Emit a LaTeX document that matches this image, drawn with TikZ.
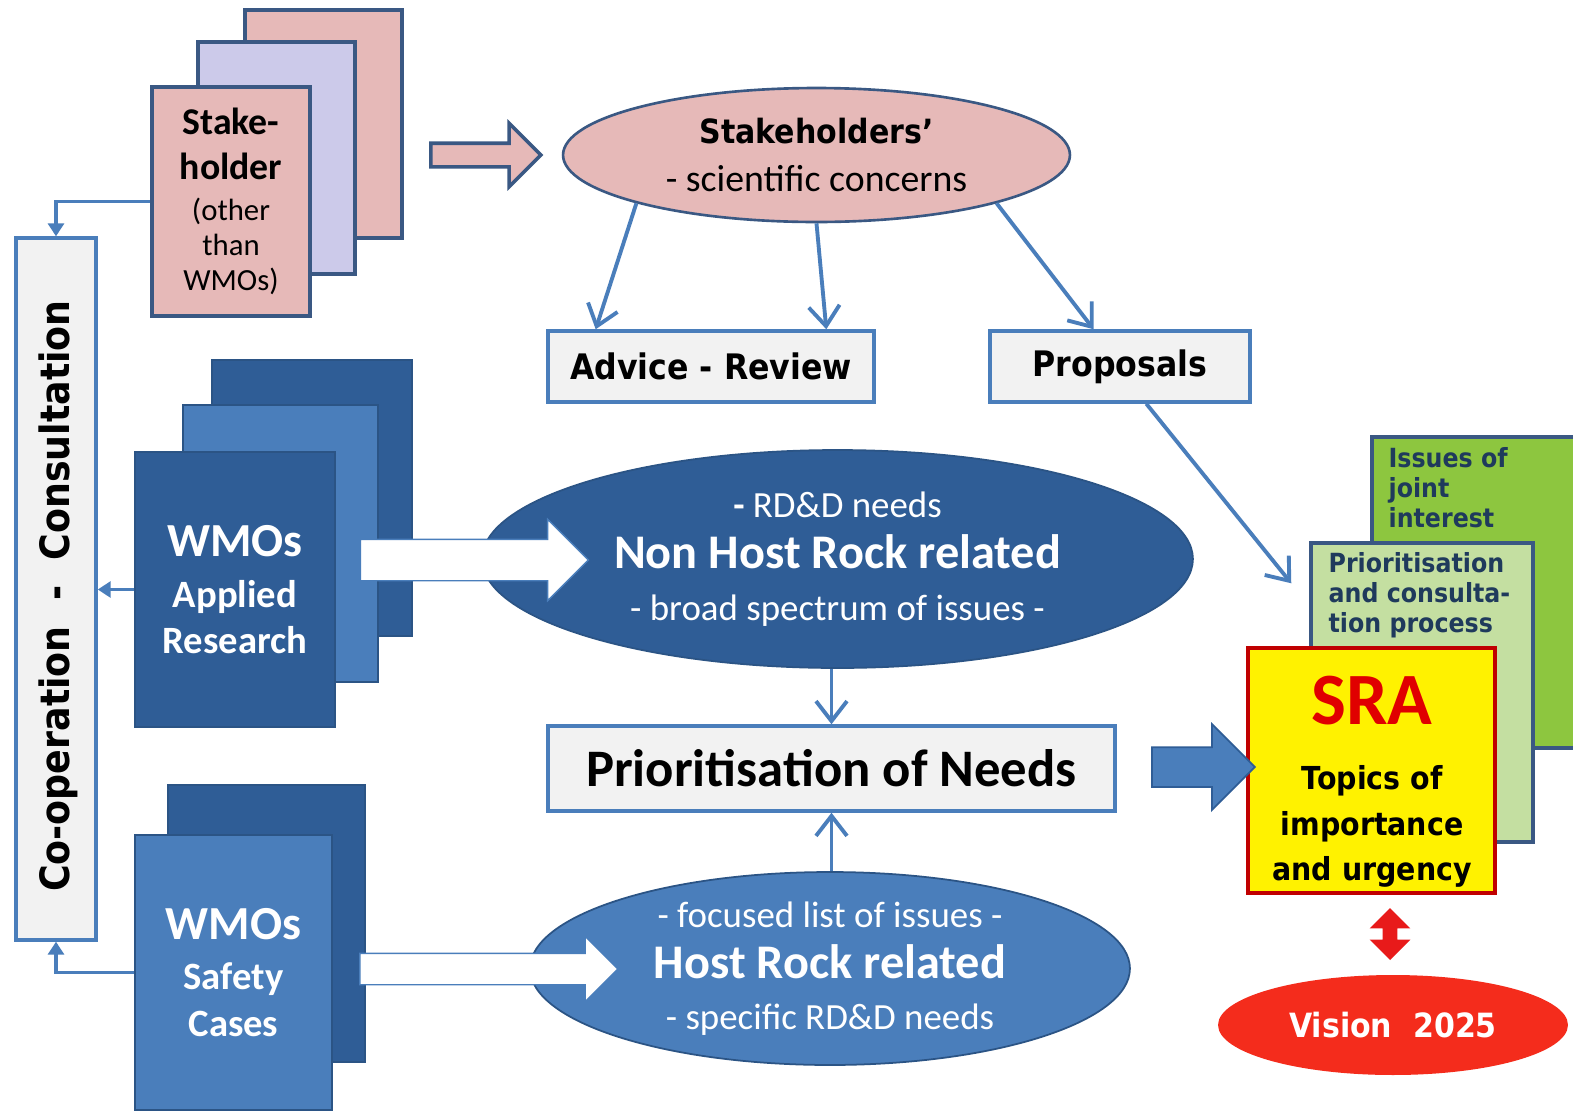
\documentclass[tikz,border=0pt]{standalone}
\usepackage{fontspec}
\setmainfont{Carlito}
\newfontfamily\tahfont[FakeStretch=0.9]{DejaVu Sans}
\usetikzlibrary{shapes.geometric, shapes.arrows, arrows.meta, positioning, calc}

\definecolor{cardedge}{HTML}{3A5883}
\definecolor{stkpink}{HTML}{E6B9B8}
\definecolor{stklav}{HTML}{CCCAEA}
\definecolor{linkblue}{HTML}{4A7EBB}
\definecolor{deepblue}{HTML}{2F5D96}
\definecolor{midblue}{HTML}{4A7EBB}
\definecolor{blueedge}{HTML}{2B5485}
\definecolor{boxgray}{HTML}{F2F2F2}
\definecolor{jointgreen}{HTML}{8DC63F}
\definecolor{palegreen}{HTML}{C4DFA1}
\definecolor{navytext}{HTML}{1F3A5C}
\definecolor{sraedge}{HTML}{C00000}
\definecolor{srared}{HTML}{E00000}
\definecolor{visionred}{HTML}{F42C1C}
\definecolor{dblred}{HTML}{E81A1A}

\begin{document}
\begin{tikzpicture}[
    x=0.02cm, y=-0.02cm,
    card/.style={rectangle, draw=cardedge, line width=2.2pt, inner sep=0pt, align=center},
    bcard/.style={rectangle, draw=blueedge, line width=0.8pt, inner sep=0pt, text=white, align=center},
    gbox/.style={rectangle, draw=linkblue, line width=2pt, fill=boxgray, inner sep=0pt, align=center},
    blob/.style={ellipse, inner sep=0pt, align=center},
    fat/.style={single arrow, inner xsep=0pt, single arrow tip angle=90},
    gtext/.style={font=\tahfont\bfseries\fontsize{15}{17}\selectfont, text=navytext, align=left, inner sep=0pt},
    link/.style={draw=linkblue, line width=2.2pt, -{Straight Barb[length=4mm, width=6.2mm]}},
    feed/.style={draw=linkblue, line width=1.8pt, -{Triangle[length=2.6mm, width=3.2mm]}}
]
\useasboundingbox[fill=white] (0,0) rectangle (1573,1113);

% consultation bar
\node[gbox, minimum width=1.6cm, minimum height=14.04cm] (coop) at (56,589) {};
\node[rotate=90, font=\tahfont\bfseries\fontsize{23}{28}\selectfont] (cooptxt) at (58,596) {Co-operation~~-~~Consultation};

% stakeholders
\node[card, fill=stkpink, minimum width=3.14cm, minimum height=4.56cm] (sh3) at (323.5,124) {};
\node[card, fill=stklav, minimum width=3.14cm, minimum height=4.64cm] (sh2) at (276.5,158) {};
\node[card, fill=stkpink, minimum width=3.16cm, minimum height=4.58cm, font=\fontsize{17.5}{19.8}\selectfont] (sh1) at (231,201.5)
    {{\bfseries\fontsize{21.5}{25}\selectfont Stake-}\\[5.5pt]{\bfseries\fontsize{21.5}{25}\selectfont holder}\\[4pt](other\\than\\WMOs)};
\node[fat, fill=stkpink, draw=cardedge, line width=2pt, minimum height=2.2cm, minimum width=1.2cm,
    inner ysep=0.2cm, single arrow head extend=0.4cm] (sharr) at (480,155) {};
\node[blob, fill=stkpink, draw=cardedge, line width=1.5pt, minimum width=10.14cm, minimum height=2.68cm,
    font=\fontsize{21.5}{27}\selectfont] (stk) at (816.5,155)
    {{\tahfont\bfseries\fontsize{19}{27}\selectfont Stakeholders’}\\- scientific concerns};
\node[gbox, minimum width=6.52cm, minimum height=1.42cm, font=\tahfont\bfseries\fontsize{20}{24}\selectfont] (adv) at (711,366.5) {Advice - Review};
\node[gbox, minimum width=5.2cm, minimum height=1.42cm, font=\tahfont\bfseries\fontsize{20}{24}\selectfont] (prop) at (1120,366.5) {Proposals};

% WMOs applied research
\node[bcard, fill=deepblue, minimum width=4cm, minimum height=5.52cm] (wa3) at (312,498) {};
\node[bcard, fill=midblue, minimum width=3.9cm, minimum height=5.54cm] (wa2) at (280.5,543.5) {};
\node[bcard, fill=deepblue, minimum width=4cm, minimum height=5.5cm, font=\bfseries\fontsize{22}{26}\selectfont] (wa1) at (235,589.5)
    {{\fontsize{27}{26}\selectfont WMOs}\\[3pt]Applied\\Research};
\node[blob, fill=deepblue, draw=blueedge, line width=1pt, minimum width=14.22cm, minimum height=4.36cm,
    text=white, font=\fontsize{21}{29.5}\selectfont] (nhr) at (837.5,559)
    {{\bfseries -} RD\&D needs\\{\bfseries\fontsize{27.5}{29.5}\selectfont Non Host Rock related}\\- broad spectrum of issues -};
\node[fat, fill=white, draw=linkblue, line width=0.8pt, minimum height=4.56cm, minimum width=1.6cm,
    inner ysep=0.4cm, single arrow head extend=0.4cm] (waarr) at (464,560) {};

% prioritisation
\node[gbox, minimum width=11.34cm, minimum height=1.7cm, font=\bfseries\fontsize{30}{36}\selectfont] (pon) at (831.5,768.5) {Prioritisation of Needs};

% WMOs safety cases
\node[bcard, fill=deepblue, minimum width=3.94cm, minimum height=5.54cm] (ws2) at (266.5,923.5) {};
\node[bcard, fill=midblue, minimum width=3.94cm, minimum height=5.5cm, font=\bfseries\fontsize{22}{26}\selectfont] (ws1) at (233.5,972.5)
    {{\fontsize{27}{26}\selectfont WMOs}\\[2.5pt]Safety\\[0.6pt]Cases};
\node[blob, fill=midblue, draw=blueedge, line width=1pt, minimum width=12cm, minimum height=3.86cm,
    text=white, font=\fontsize{21}{29}\selectfont] (hr) at (830,968.5)
    {- focused list of issues -\\{\bfseries\fontsize{27.5}{29}\selectfont Host Rock related}\\- specific RD\&D needs};
\node[fat, fill=white, draw=linkblue, line width=0.8pt, minimum height=5.16cm, minimum width=1.28cm,
    inner ysep=0.3cm, single arrow head extend=0.34cm] (wsarr) at (481,969) {};

% SRA stack
\node[card, fill=jointgreen, line width=2pt, minimum width=4.36cm, minimum height=6.22cm] (ij) at (1481,592.5) {};
\node[gtext, anchor=north west] (ijtxt) at ($(ij.north west)+(18,12)$) {Issues of\\joint\\interest};
\node[card, fill=palegreen, line width=2pt, minimum width=4.44cm, minimum height=5.98cm] (pcp) at (1422,692.5) {};
\node[gtext, anchor=north west] (pcptxt) at ($(pcp.north west)+(19,11)$) {Prioritisation\\and consulta-\\tion process};
\node[card, fill=yellow, draw=sraedge, line width=2.5pt, minimum width=4.94cm, minimum height=4.9cm] (sra) at (1371.5,770.5) {};
\node[align=center, font=\tahfont\bfseries\fontsize{18}{26}\selectfont] (sratxt) at (1372,782)
    {{\normalfont\bfseries\fontsize{42}{26}\selectfont\color{srared}SRA}\\[11pt]Topics of\\importance\\and urgency};
\node[fat, fill=midblue, draw=deepblue, line width=1pt, minimum height=2.06cm, minimum width=1.68cm,
    inner ysep=0.38cm, single arrow head extend=0.46cm] (bigarr) at (1193.5,767) {};
\node[double arrow, rotate=90, fill=dblred, inner xsep=0pt, inner ysep=0.14cm, minimum height=1.04cm,
    minimum width=0.8cm, double arrow head extend=0.26cm, double arrow tip angle=90] (dbl) at (1390,934) {};
\node[blob, fill=visionred, minimum width=7cm, minimum height=2cm, text=white,
    font=\tahfont\bfseries\fontsize{19}{22}\selectfont] (vis) at (1393,1025) {Vision~~2025};

% connectors
\coordinate (pcpin) at ($(pcp.north west)+(-18,42)$);
\draw[link] (stk.south west) -- ($(adv.north west)!0.15!(adv.north east)$);
\draw[link] (stk.south) -- ($(adv.north west)!0.85!(adv.north east)$);
\draw[link] (stk.south east) -- ($(prop.north west)!0.4!(prop.north east)$);
\draw[link] ($(prop.south west)!0.6!(prop.south east)$) -- (pcpin);
\draw[link] (nhr.south -| pon.north) -- (pon.north);
\draw[link] (hr.north -| pon.south) -- (pon.south);
\draw[feed] (sh1.west) -| (coop.north);
\draw[feed] (wa1.west) -- (wa1.west -| coop.east);
\draw[feed] (ws1.west) -| (coop.south);
\end{tikzpicture}
\end{document}
